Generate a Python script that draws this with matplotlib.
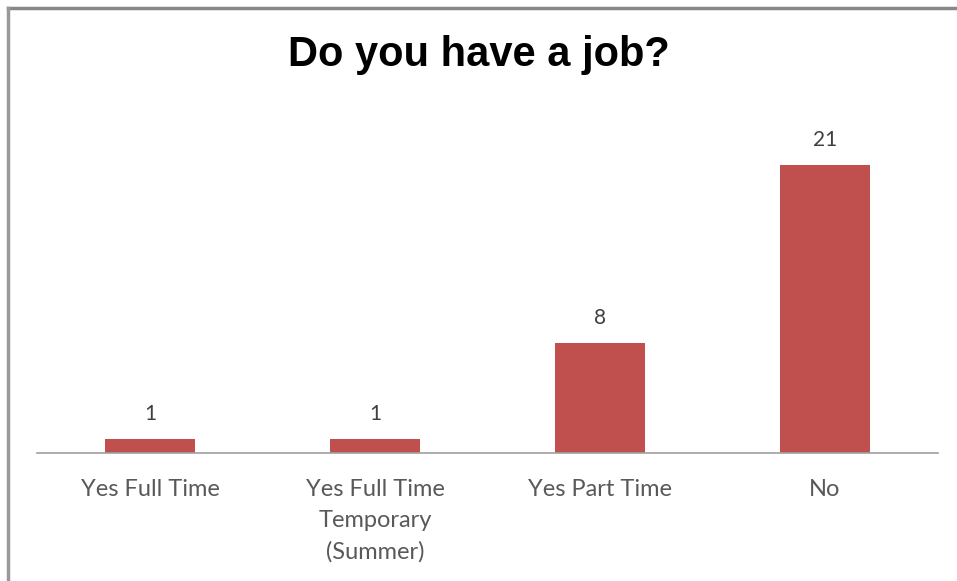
import matplotlib

matplotlib.use("Agg")

import matplotlib.pyplot as plt
from matplotlib.lines import Line2D

categories = ["Yes Full Time", "Yes Full Time\nTemporary\n(Summer)", "Yes Part Time", "No"]
counts = [1, 1, 8, 21]

W, H = 957, 581
fig = plt.figure(figsize=(W / 100, H / 100), dpi=100)

# plot area in pixel terms
x0, x1 = 37.5, 937.5
y_base = 452.5
px_per_unit = 13.67
ymax = 24
y_top = y_base - ymax * px_per_unit
ax = fig.add_axes([x0 / W, (H - y_base) / H, (x1 - x0) / W, (y_base - y_top) / H])

positions = range(len(categories))
ax.bar(positions, counts, width=0.4, color="#C0504D")
ax.set_xlim(-0.5, len(categories) - 0.5)
ax.set_ylim(0, ymax)

for x, v in zip(positions, counts):
    ax.annotate(str(v), (x, v), xytext=(0, 11), textcoords="offset points",
                ha="center", va="bottom", fontsize=15, family="Lato", color="#404040")

for side in ["top", "right", "left"]:
    ax.spines[side].set_visible(False)
ax.spines["bottom"].set_color("#A0A0A0")
ax.spines["bottom"].set_linewidth(1.2)
ax.set_yticks([])
ax.set_xticks(list(positions))
ax.set_xticklabels(categories, fontsize=17, family="Lato", color="#595959", linespacing=1.57)
ax.tick_params(axis="x", length=0, pad=19)

fig.text(0.5, 1 - 55 / H, "Do you have a job?", ha="center", va="center",
         fontsize=30, fontweight="bold", family="Liberation Sans", color="black")

# outer chart frame (top and left edges visible)
fig.add_artist(Line2D([8 / W, 1], [1 - 8 / H, 1 - 8 / H], color="#888888", linewidth=2.5))
fig.add_artist(Line2D([8 / W, 8 / W], [0, 1 - 8 / H], color="#999999", linewidth=2.5))

fig.savefig("out.png", dpi=100)
